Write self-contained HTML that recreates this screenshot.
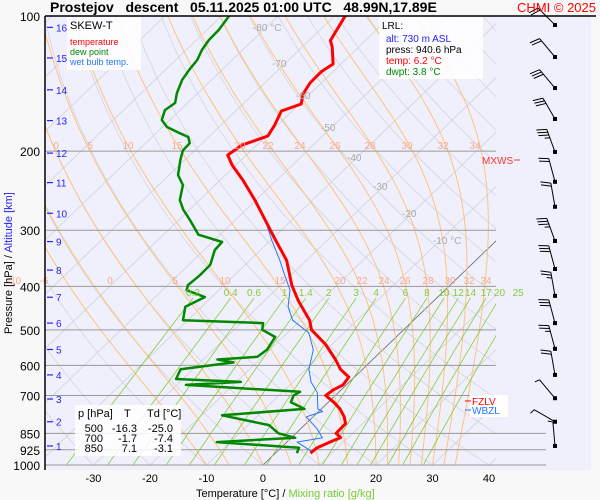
<!DOCTYPE html>
<html><head><meta charset="utf-8">
<style>
html,body{margin:0;padding:0;background:#f8f8f8;}
svg{display:block;font-family:"Liberation Sans",sans-serif;}
</style></head>
<body>
<svg id="chart" width="600" height="500" viewBox="0 0 600 500">
<defs><clipPath id="pc"><rect x="45" y="16" width="451" height="449"/></clipPath></defs>
<rect x="45" y="16" width="546" height="454" fill="#f0f0fd"/>
<g id="grid" clip-path="url(#pc)"></g>
<g id="isobars"></g>
<g id="profiles" clip-path="url(#pc)"></g>
<g id="winds"></g>
<g id="labels"></g>
<line x1="45" y1="16" x2="596" y2="16" stroke="#000" stroke-width="1.5"/>
<line x1="45" y1="16" x2="45" y2="470" stroke="#000" stroke-width="1.5"/>
<text x="50" y="12" font-size="14" font-weight="bold" xml:space="preserve">Prostejov   descent   05.11.2025 01:00 UTC   48.99N,17.89E</text>
<text x="596" y="12" font-size="13" fill="#f00" text-anchor="end">CHMI © 2025</text>
<rect x="67" y="17" width="74" height="53" fill="#fff" opacity="0.85"/>
<text x="70" y="29" font-size="11">SKEW-T</text>
<text x="70" y="45" font-size="9" fill="#f00">temperature</text>
<text x="70" y="55" font-size="9" fill="#080">dew point</text>
<text x="70" y="65" font-size="9" fill="#27f">wet bulb temp.</text>
<rect x="379" y="17" width="104" height="62" fill="#fff" opacity="0.85"/>
<text x="382" y="29" font-size="10">LRL:</text>
<text x="386" y="42" font-size="10" fill="#22f">alt: 730 m ASL</text>
<text x="386" y="53" font-size="10">press: 940.6 hPa</text>
<text x="386" y="64" font-size="10" fill="#f00">temp: 6.2 °C</text>
<text x="386" y="75" font-size="10" fill="#080">dwpt: 3.8 °C</text>
<rect x="75" y="405" width="106" height="51" fill="#fff" opacity="0.85"/>
<g font-size="11">
<text x="78" y="417">p [hPa]</text><text x="124" y="417">T</text><text x="147" y="417">Td [°C]</text>
<g text-anchor="end"><text x="103" y="432">500</text><text x="137" y="432">-16.3</text><text x="173" y="432">-25.0</text>
<text x="103" y="442">700</text><text x="137" y="442">-1.7</text><text x="173" y="442">-7.4</text>
<text x="103" y="452">850</text><text x="137" y="452">7.1</text><text x="173" y="452">-3.1</text></g></g>
<rect x="470" y="395" width="38" height="22" fill="#fff"/>
<line x1="465" y1="401" x2="471" y2="401" stroke="#f00"/><text x="472" y="405" font-size="10" fill="#f00">FZLV</text>
<line x1="465" y1="410" x2="471" y2="410" stroke="#27f"/><text x="472" y="414" font-size="10" fill="#27f">WBZL</text>
<text x="482" y="164" font-size="10" fill="#f33">MXWS</text>
<line x1="514" y1="160" x2="520" y2="160" stroke="#f33"/>
<text x="196" y="497" font-size="11">Temperature [°C]  /  <tspan fill="#7c3">Mixing ratio [g/kg]</tspan></text>
<text transform="translate(12,334) rotate(-90)" font-size="11">Pressure [hPa]  /  <tspan fill="#22f">Altitude [km]</tspan></text>
</svg>
<script>
var tempP=[100,113.4,117.2,127.9,133.2,141,149.2,157,162.8,175,185,193.9,204,214.7,232,257,284.8,316,350,397.6,430.6,476,500,539,582,612,637,663,681,700,725,750,781,809,850,869,889,915,941];
var tempT=[-68.1,-66.2,-64.7,-61.4,-62.1,-62.0,-61.2,-59.7,-61.9,-60.5,-59.7,-62.6,-63.3,-60.7,-56.0,-50.2,-44.7,-39.1,-33.5,-28.0,-24.0,-18.4,-16.3,-11.1,-6.6,-3.9,-1.0,-0.6,-1.4,-1.7,1.0,3.3,5.5,7.0,7.1,8.7,7.6,6.4,6.2];
var dewP=[99.5,107.4,113.1,119,125.3,131.8,138.7,148.5,156.2,162,170.5,176.7,182.4,186,192,199,209,226,238,257,270,284.8,307,318.6,332,358,377,397.6,408,422.8,444,476,483,500,518.6,554,574,582,591,612,643.5,653,663,687,700,725,750,775,815,850,870,889,915,941];
var dewT=[-88.7,-87.9,-87.8,-87.2,-86.2,-85.8,-85.2,-83.7,-82.2,-82.7,-81.4,-79.2,-75.8,-73.6,-72.2,-72.1,-70.8,-68.4,-65.7,-63.5,-61.1,-58.0,-53.8,-48.3,-48.1,-46.2,-46.1,-46.4,-45.7,-41.2,-42.9,-40.8,-26.1,-25.0,-21.4,-20.5,-20.9,-27.5,-24.1,-32.2,-31.2,-19.2,-28.4,-6.9,-7.4,-6.6,-3.0,-16.4,-6.3,-3.1,0.7,-12.4,3.2,3.8];
var wbP=[284.8,316,350,367.6,408,444,476,508,554,612,653,690,750,760,781,829,870,889,930];
var wbT=[-44.7,-39.8,-34.7,-32.4,-27.4,-24.7,-21.4,-16.2,-12.3,-9.5,-6.8,-3.7,-0.6,0.7,-1.2,2.8,5.5,1.8,5.9];
var pressureTicks=[100,200,300,400,500,600,700,850,925,1000];
var tempTicks=[-30,-20,-10,0,10,20,30,40];
var altKm=[1,2,3,4,5,6,7,8,9,10,11,12,13,14,15,16];
var altP=[907,801,713,630,553,483,423,368,318,275,235,202,171,146,124,106];
var isoLabelT=[-80,-70,-60,-50,-40,-30,-20,-10];
var thetaW=[-10,-6,0,5,10,15,20,22,24,26,28,30,32,34];
var mixRatios=[0.2,0.4,0.6,1,1.4,2,3,4,6,8,10,12,14,17,20,25];
var windP=[104.7,123.4,144.7,169.6,200.8,234,266,317,366,420,483,551,630,710,801,907];
var windDir=[315,320,320,330,340,345,350,340,345,350,345,345,350,320,300,355];
var windSpd=[20,20,30,30,35,20,20,35,30,25,30,25,20,5,5,5];

var NS='http://www.w3.org/2000/svg';
function Y(p){return 16+195*Math.log(p/100);}
function X(t,p){return 263+5.65*t+1.04*(465-Y(p));}
function mk(tag,at,par){var e=document.createElementNS(NS,tag);for(var k in at)e.setAttribute(k,at[k]);par.appendChild(e);return e;}
var grid=document.getElementById('grid'),iso=document.getElementById('isobars'),prof=document.getElementById('profiles'),lab=document.getElementById('labels'),wg=document.getElementById('winds');
function pathFrom(pts){return pts.map(function(q,i){return (i?'L':'M')+q[0].toFixed(1)+' '+q[1].toFixed(1);}).join('');}
var i,p,T,pts,e;
for(T=-160;T<=50;T+=10){
 e=mk('line',{x1:X(T,1000),y1:Y(1000),x2:X(T,100),y2:Y(100),stroke:T===0?'#666':'#d0d0d8','stroke-width':0.8},grid);
 
 
}
for(var th=-40;th<=220;th+=10){pts=[];for(p=1000;p>=100;p-=20){pts.push([X((th+273.15)*Math.pow(p/1000,0.286)-273.15,p),Y(p)]);}
 e=mk('path',{d:pathFrom(pts),fill:'none',stroke:'#d4d4dc','stroke-width':0.8},grid);
 
 
}
function es(t){return 6.112*Math.exp(17.67*t/(t+243.5));}
for(i=0;i<thetaW.length;i++){T=thetaW[i]+273.15;pts=[];
 for(p=1000;p>=100;){var rs=0.622*es(T-273.15)/(p-es(T-273.15));var dT=(287*T+2.5e6*rs)/(1004+2.5e6*2.5e6*rs*0.622/(287*T*T));
  pts.push([X(T-273.15,p),Y(p)]);var np=p-10;T+=dT*(Math.log(np)-Math.log(p));p=np;}
 e=mk('path',{d:pathFrom(pts),fill:'none',stroke:'#fdc47e','stroke-width':1},grid);
 
 
}
for(i=0;i<mixRatios.length;i++){var w=mixRatios[i];pts=[];
 for(p=1000;p>=425;p-=25){var ev=w*p/(622+w),l=Math.log(ev/6.112);pts.push([X(243.5*l/(17.67-l),p),Y(p)]);}
 e=mk('path',{d:pathFrom(pts),fill:'none',stroke:'#8c3','stroke-width':0.8},grid);
 
 
 var last=pts[pts.length-1];
 e=mk('text',{x:last[0],y:last[1]-2,'font-size':10,fill:'#8c3','text-anchor':'middle'},lab);e.textContent=w;
 
 
}
var isoLabelPos=[[253,31],[272,67],[296,99],[321,131],[347,161],[373,190],[402,217],[433,244]];
for(i=0;i<isoLabelT.length;i++){
 e=mk('text',{x:isoLabelPos[i][0],y:isoLabelPos[i][1],'font-size':10,fill:'#aaa'},lab);e.textContent=isoLabelT[i]+(i===0||i===7?' °C':'');
 
 
}
var lbl200=[[0,56],[5,90],[10,128],[15,177],[20,240],[22,268],[24,300],[26,335],[28,370],[30,407],[32,443],[34,475]];
var lbl400=[[-10,14],[-6,44],[0,110],[5,175],[10,225],[15,280],[20,340],[22,362],[24,384],[26,405],[28,428],[30,450],[32,469],[34,486]];
[[lbl200,149],[lbl400,284]].forEach(function(g){g[0].forEach(function(q){
 var t=mk('text',{x:q[1],y:g[1],'font-size':10,fill:'#f9a98a','text-anchor':'middle'},lab);t.textContent=q[0];
 
 
});});
for(i=0;i<pressureTicks.length;i++){p=pressureTicks[i];var y=Y(p);
 e=mk('line',{x1:45,y1:y,x2:p>=850?546:496,y2:y,stroke:'#999','stroke-width':1},iso);
 
 
 e=mk('text',{x:40,y:y+5,'font-size':12,'text-anchor':'end'},lab);e.textContent=p;
 
 
}
for(i=0;i<tempTicks.length;i++){
 e=mk('text',{x:X(tempTicks[i],1000),y:482,'font-size':11,'text-anchor':'middle'},lab);e.textContent=tempTicks[i];
 
 
}
for(i=0;i<altKm.length;i++){var ya=Y(altP[i]);
 mk('line',{x1:47,y1:ya,x2:53,y2:ya,stroke:'#22f','stroke-width':1.2},lab);
 e=mk('text',{x:56,y:ya+4,'font-size':10,fill:'#22f'},lab);e.textContent=altKm[i];
 
 
}
function prof_(P,Tv,col,wd,name){pts=[];for(var k=0;k<P.length;k++)pts.push([X(Tv[k],P[k]),Y(P[k])]);
 var el=mk('path',{d:pathFrom(pts),fill:'none',stroke:col,'stroke-width':wd,'stroke-linejoin':'round'},prof);
 
 
}
prof_(wbP,wbT,'#27f',1,'wet-bulb-line');
prof_(dewP,dewT,'#080',2.5,'dew-point-line');
prof_(tempP,tempT,'#f00',3,'temperature-line');
for(i=0;i<windP.length;i++){var yw=Y(windP[i]),xw=555,a=windDir[i]*Math.PI/180,L=24;
 var dx=Math.sin(a),dy=-Math.cos(a),ex=xw+dx*L,ey=yw+dy*L;
 e=mk('line',{x1:xw,y1:yw,x2:ex,y2:ey,stroke:'#000','stroke-width':1},wg);
 
 
 mk('rect',{x:xw-2,y:yw-2,width:4,height:4,fill:'#000'},wg);
 var s=windSpd[i],pos=0;
 while(s>=10){var bx=ex-dx*pos,by=ey-dy*pos;mk('line',{x1:bx,y1:by,x2:bx+dy*10+dx*3,y2:by-dx*10+dy*3,stroke:'#000','stroke-width':1},wg);s-=10;pos+=3;}
 if(s>=5){var bx2=ex-dx*pos,by2=ey-dy*pos;mk('line',{x1:bx2,y1:by2,x2:bx2+dy*5+dx*1.5,y2:by2-dx*5+dy*1.5,stroke:'#000','stroke-width':1},wg);}
}
</script>
</body></html>
